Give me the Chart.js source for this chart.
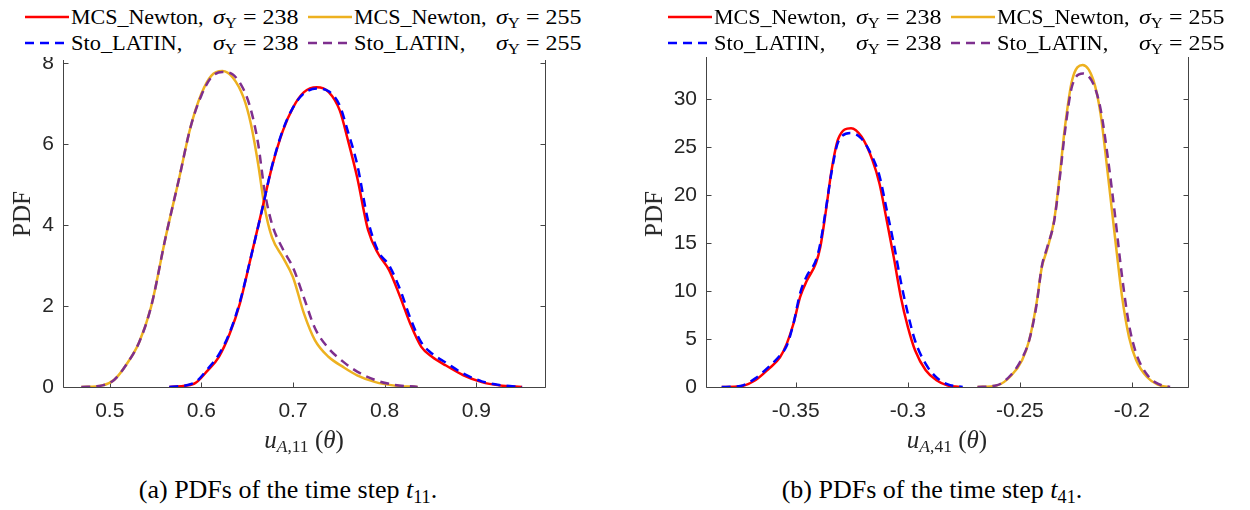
<!DOCTYPE html>
<html>
<head>
<meta charset="utf-8">
<script src="https://cdn.jsdelivr.net/npm/chart.js@4.4.1/dist/chart.umd.min.js"></script>
<style>
  body { margin: 0; background: #fff; }
  #wrap { position: relative; width: 1250px; height: 510px; background: #fff; overflow: hidden; }
  .box { position: absolute; }
  .legend { position: absolute; top: 0; height: 57px; background: #fff; font-family: "Liberation Serif", "DejaVu Serif", serif; font-size: 22px; color: #000; }
  .legend span, .legend svg { position: absolute; white-space: nowrap; }
  .legend sub, .xt sub { font-size: 70%; vertical-align: -0.25em; line-height: 0; }
  .xt { position: absolute; font-family: "Liberation Serif", serif; font-size: 25px; color: #262626; white-space: nowrap; transform: translate(-50%, -50%); }
  .ylab { position: absolute; font-family: "Liberation Serif", serif; font-size: 25px; color: #262626; transform: translate(-50%, -50%) rotate(-90deg); }
  .cap { position: absolute; font-family: "Liberation Serif", serif; font-size: 26px; color: #000; white-space: nowrap; transform: translate(-50%, -50%); }
  .cap sub { font-size: 70%; vertical-align: -0.25em; line-height: 0; }
</style>
</head>
<body>
<div id="wrap">
  <div class="box" style="left:0;top:0;width:620px;height:460px"><canvas id="chartA"></canvas></div>
  <div class="box" style="left:625px;top:0;width:625px;height:460px"><canvas id="chartB"></canvas></div>
  <div class="legend" id="legA" style="left:0;width:620px"></div>
  <div class="legend" id="legB" style="left:630px;width:620px"></div>
  <div class="ylab" style="left:22px;top:214px">PDF</div>
  <div class="ylab" style="left:654px;top:214px">PDF</div>
  <div class="xt" style="left:304px;top:440px"><i>u</i><sub><i>A</i>,11</sub> (<i>θ</i>)</div>
  <div class="xt" style="left:947px;top:440px"><i>u</i><sub><i>A</i>,41</sub> (<i>θ</i>)</div>
  <div class="cap" style="left:288px;top:490px">(a) PDFs of the time step <i>t</i><sub>11</sub>.</div>
  <div class="cap" style="left:932px;top:490px">(b) PDFs of the time step <i>t</i><sub>41</sub>.</div>
</div>
<script>
// series names / colours (legend order: row 1 = MCS, row 2 = Sto)
const seriesNames = ['MCS_Newton,', 'MCS_Newton,', 'Sto_LATIN,', 'Sto_LATIN,'];
const sigmaVals = ['238', '255', '238', '255'];
const seriesColors = ['#ff0000', '#edb120', '#0000ff', '#7e2f8e'];

// --- (a) time step t11 ---
const a_mcs238_x = [0.565, 0.592, 0.607, 0.619, 0.631, 0.642, 0.654, 0.666, 0.677, 0.689, 0.700, 0.712, 0.726, 0.739, 0.751, 0.760, 0.770, 0.782, 0.793, 0.805, 0.817, 0.828, 0.840, 0.852, 0.867, 0.886, 0.906, 0.925, 0.950];
const a_mcs238_y = [0, 0.08, 0.41, 0.74, 1.32, 2.06, 3.2, 4.36, 5.43, 6.33, 6.9, 7.28, 7.4, 7.28, 6.83, 6.09, 5.18, 3.87, 3.29, 2.88, 2.22, 1.56, 0.99, 0.74, 0.53, 0.29, 0.12, 0.04, 0];
const a_sto238_x = [0.565, 0.592, 0.607, 0.619, 0.631, 0.642, 0.654, 0.666, 0.677, 0.689, 0.700, 0.712, 0.726, 0.739, 0.751, 0.760, 0.770, 0.782, 0.793, 0.805, 0.817, 0.828, 0.840, 0.852, 0.867, 0.886, 0.906, 0.925, 0.950];
const a_sto238_y = [0, 0.1, 0.45, 0.8, 1.35, 2.1, 3.2, 4.35, 5.45, 6.35, 6.9, 7.25, 7.37, 7.3, 6.95, 6.3, 5.5, 4.1, 3.35, 3.0, 2.4, 1.7, 1.1, 0.82, 0.6, 0.33, 0.14, 0.05, 0];
const a_mcs255_x = [0.469, 0.492, 0.505, 0.518, 0.532, 0.545, 0.561, 0.576, 0.588, 0.600, 0.611, 0.623, 0.634, 0.646, 0.654, 0.662, 0.669, 0.677, 0.689, 0.700, 0.712, 0.724, 0.739, 0.755, 0.770, 0.790, 0.809, 0.836];
const a_mcs255_y = [0, 0.04, 0.18, 0.55, 1.1, 1.97, 3.7, 5.18, 6.4, 7.24, 7.69, 7.8, 7.65, 7.15, 6.5, 5.5, 4.44, 3.7, 3.2, 2.71, 1.81, 1.15, 0.74, 0.49, 0.29, 0.12, 0.04, 0];
const a_sto255_x = [0.469, 0.492, 0.505, 0.518, 0.532, 0.545, 0.561, 0.576, 0.588, 0.600, 0.611, 0.623, 0.634, 0.646, 0.654, 0.662, 0.669, 0.677, 0.689, 0.700, 0.712, 0.724, 0.739, 0.755, 0.770, 0.790, 0.809, 0.836];
const a_sto255_y = [0, 0.04, 0.18, 0.55, 1.1, 1.97, 3.7, 5.18, 6.4, 7.2, 7.65, 7.78, 7.72, 7.35, 6.85, 6.0, 4.85, 4.03, 3.4, 2.95, 2.2, 1.45, 0.95, 0.62, 0.38, 0.17, 0.06, 0];
const a_xTicks = [0.5, 0.6, 0.7, 0.8, 0.9];
const a_xLabels = ['0.5', '0.6', '0.7', '0.8', '0.9'];
const a_yTicks = [0, 2, 4, 6, 8];

// --- (b) time step t41 ---
const b_mcs238_x = [-0.383, -0.3747, -0.368, -0.362, -0.357, -0.354, -0.351, -0.348, -0.345, -0.341, -0.339, -0.3365, -0.334, -0.331, -0.3253, -0.3206, -0.3158, -0.3126, -0.3094, -0.3063, -0.3031, -0.300, -0.2967, -0.292, -0.2872, -0.2824, -0.2768];
const b_mcs238_y = [0, 0.07, 0.7, 1.9, 3.1, 4.5, 6.6, 9.4, 11.1, 12.9, 14.6, 18.4, 22.6, 25.9, 27.0, 26.1, 23.7, 21.2, 17.4, 13.6, 9.4, 6.3, 3.8, 1.74, 0.7, 0.17, 0];
const b_sto238_x = [-0.383, -0.3747, -0.368, -0.362, -0.357, -0.354, -0.351, -0.348, -0.345, -0.341, -0.339, -0.3365, -0.334, -0.331, -0.3253, -0.3206, -0.3158, -0.3126, -0.3094, -0.3063, -0.3031, -0.300, -0.2967, -0.292, -0.2872, -0.2824, -0.2755];
const b_sto238_y = [0, 0.1, 0.9, 2.1, 3.3, 4.3, 6.6, 9.8, 11.6, 13.2, 15.0, 18.6, 22.4, 25.6, 26.5, 25.9, 24.0, 22.0, 18.5, 15.0, 11.0, 7.7, 4.8, 2.4, 1.0, 0.3, 0];
const b_mcs255_x = [-0.2689, -0.2601, -0.2538, -0.249, -0.2458, -0.2426, -0.2402, -0.2379, -0.2347, -0.2323, -0.2299, -0.2267, -0.222, -0.2172, -0.214, -0.2108, -0.2076, -0.2044, -0.2013, -0.1981, -0.1933, -0.1885, -0.1838];
const b_mcs255_y = [0, 0.17, 1.2, 2.8, 4.9, 8.7, 12.5, 14.3, 17.4, 21.9, 27.1, 32.0, 33.6, 32.0, 28.5, 22.3, 15.7, 9.4, 5.2, 2.8, 1.04, 0.24, 0];
const b_sto255_x = [-0.2689, -0.2601, -0.2538, -0.249, -0.2458, -0.2426, -0.2402, -0.2379, -0.2347, -0.2323, -0.2299, -0.2267, -0.2218, -0.2172, -0.214, -0.2108, -0.2076, -0.2044, -0.2013, -0.1981, -0.1933, -0.1885, -0.183];
const b_sto255_y = [0, 0.2, 1.3, 3.0, 4.9, 8.5, 12.6, 14.5, 17.3, 21.6, 26.6, 31.4, 32.7, 31.6, 29.0, 24.0, 18.0, 11.5, 6.5, 3.5, 1.3, 0.35, 0];
const b_xTicks = [-0.35, -0.3, -0.25, -0.2];
const b_xLabels = ['-0.35', '-0.3', '-0.25', '-0.2'];
const b_yTicks = [0, 5, 10, 15, 20, 25, 30, 35];

const toPts = (xs, ys) => xs.map((x, i) => ({ x: x, y: ys[i] }));

// frame + inward ticks, like a matlab box (top edge is hidden under the legend)
const framePlugin = {
    id: 'frame',
    beforeDatasetsDraw(chart) {
        const { ctx, chartArea: a, scales } = chart;
        const L = Math.round(a.left) + 0.5, R = Math.round(a.right) + 0.5, B = Math.round(a.bottom) + 0.5;
        ctx.save();
        ctx.strokeStyle = '#444';
        ctx.lineWidth = 1;
        ctx.beginPath();
        ctx.moveTo(L, a.top - 3); ctx.lineTo(L, B); ctx.lineTo(R, B); ctx.lineTo(R, a.top - 3);
        scales.x.ticks.forEach(t => {
            const px = Math.round(scales.x.getPixelForValue(t.value)) + 0.5;
            ctx.moveTo(px, B); ctx.lineTo(px, B - 5);
        });
        scales.y.ticks.forEach(t => {
            const py = Math.round(scales.y.getPixelForValue(t.value)) + 0.5;
            ctx.moveTo(L, py); ctx.lineTo(L + 5, py);
            ctx.moveTo(R, py); ctx.lineTo(R - 5, py);
        });
        ctx.stroke();
        ctx.restore();
    }
};

function makeChart(id, sets, xr, yr, xTicks, xLabels, yTicks, box) {
    const tickFont = { family: '"Liberation Sans", Arial, sans-serif', size: 21 };
    const datasets = sets.map((s, i) => ({
        data: s,
        borderColor: seriesColors[i],
        borderWidth: 2.5,
        borderDash: i >= 2 ? [9, 6] : [],
        order: i >= 2 ? 0 : 1,
        pointRadius: 0,
        fill: false,
        cubicInterpolationMode: 'monotone'
    }));
    return new Chart(document.getElementById(id), {
        type: 'line',
        data: { datasets: datasets },
        options: {
            responsive: true,
            maintainAspectRatio: false,
            animation: false,
            layout: { padding: { top: box.top, right: box.right, left: 0, bottom: 0 } },
            plugins: { legend: { display: false }, tooltip: { enabled: false } },
            scales: {
                x: {
                    type: 'linear', min: xr[0], max: xr[1],
                    afterBuildTicks: s => { s.ticks = xTicks.map(v => ({ value: v })); },
                    afterFit: s => { s.height = box.xh; },
                    ticks: { font: tickFont, color: '#262626', padding: 12, maxRotation: 0,
                             callback: (v, i) => xLabels[i] },
                    grid: { display: false, drawTicks: false },
                    border: { display: false }
                },
                y: {
                    min: yr[0], max: yr[1],
                    afterBuildTicks: s => { s.ticks = yTicks.map(v => ({ value: v })); },
                    afterFit: s => { s.width = box.yw; },
                    ticks: { font: tickFont, color: '#262626', padding: 9 },
                    grid: { display: false, drawTicks: false },
                    border: { display: false }
                }
            }
        },
        plugins: [framePlugin]
    });
}

makeChart('chartA',
    [toPts(a_mcs238_x, a_mcs238_y), toPts(a_mcs255_x, a_mcs255_y), toPts(a_sto238_x, a_sto238_y), toPts(a_sto255_x, a_sto255_y)],
    [0.449, 0.975], [0, 8], a_xTicks, a_xLabels, a_yTicks,
    { top: 63, right: 75, xh: 73, yw: 63 });

makeChart('chartB',
    [toPts(b_mcs238_x, b_mcs238_y), toPts(b_mcs255_x, b_mcs255_y), toPts(b_sto238_x, b_sto238_y), toPts(b_sto255_x, b_sto255_y)],
    [-0.39, -0.175], [0, 35], b_xTicks, b_xLabels, b_yTicks,
    { top: 51.5, right: 62, xh: 73, yw: 81 });

// legend: 2 columns x 2 rows; text stretched a bit so it spans like the LaTeX font
function fitWidth(span, target, origin) {
    const w = span.offsetWidth;
    if (w > 0) {
        span.style.transformOrigin = origin;
        span.style.transform = 'scaleX(' + (target / w).toFixed(3) + ')';
    }
}
function makeLegend(el, x0) {
    const cols = [0, 283];
    for (let i = 0; i < 4; i++) {
        const col = i % 2, row = i < 2 ? 0 : 1;
        const lx = x0 + cols[col];
        const cy = row === 0 ? 17 : 43;
        const dash = i >= 2 ? 'stroke-dasharray="9 6"' : '';
        el.insertAdjacentHTML('beforeend',
            `<svg width="44" height="6" style="left:${lx}px;top:${cy - 3}px"><line x1="0" y1="3" x2="44" y2="3" stroke="${seriesColors[i]}" stroke-width="2.5" ${dash}/></svg>`);
        const name = document.createElement('span');
        name.textContent = seriesNames[i];
        name.style.cssText = `left:${lx + 46}px;top:${cy - 14}px;line-height:28px`;
        el.appendChild(name);
        fitWidth(name, i < 2 ? 133 : 111, 'left center');
        const sig = document.createElement('span');
        sig.innerHTML = `<i>σ</i><sub>Y</sub> = ${sigmaVals[i]}`;
        sig.style.cssText = `right:${el.offsetWidth - (lx + 273)}px;top:${cy - 14}px;line-height:28px`;
        el.appendChild(sig);
        fitWidth(sig, 85, 'right center');
    }
}
makeLegend(document.getElementById('legA'), 25);
makeLegend(document.getElementById('legB'), 38);
</script>
</body>
</html>
